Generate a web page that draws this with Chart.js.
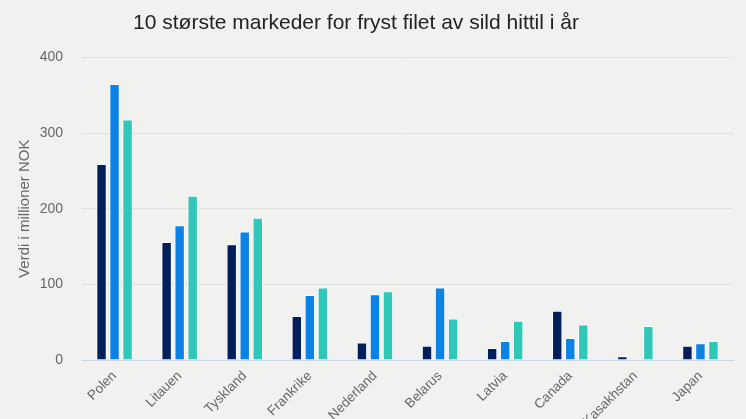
<!DOCTYPE html>
<html lang="no">
<head>
<meta charset="utf-8">
<title>10 største markeder for fryst filet av sild hittil i år</title>
<script src="https://cdn.jsdelivr.net/npm/chart.js@4/dist/chart.umd.min.js"></script>
<style>
    html, body { margin: 0; padding: 0; background: #f1f2ef; }
    #wrap { width: 746px; height: 419px; position: relative; overflow: hidden; }
    #title {
        position: absolute; left: 0; top: 0; width: 712px;
        font-family: "Liberation Sans", Arial, sans-serif;
        font-size: 21px;
        color: #222;
        line-height: 43px;
        padding-right: 34px;
        text-align: center;
        white-space: nowrap;
        z-index: 1;
    }
    canvas { display: block; position: absolute; left: 0; top: 30px; }
</style>
</head>
<body>
<div id="wrap">
    <div id="title">10 største markeder for fryst filet av sild hittil i år</div>
    <canvas id="chart" width="746" height="389"></canvas>
</div>
<script>
(function () {
    'use strict';

    // ── Data ──────────────────────────────────────────────────────────────────
    var markets = ['Polen', 'Litauen', 'Tyskland', 'Frankrike', 'Nederland',
                   'Belarus', 'Latvia', 'Canada', 'Kasakhstan', 'Japan'];
    var periodA = [259, 156, 153, 58, 23, 19, 16, 65, 5, 19];
    var periodB = [365, 178, 170, 86, 87, 96, 25, 29, null, 22];
    var periodC = [318, 217, 188, 96, 91, 55, 52, 47, 45, 25];
    var yTicks  = [0, 100, 200, 300, 400];

    var font = '"Liberation Sans", Arial, sans-serif';

    function series(label, data, color) {
        return {
            label: label,
            data: data,
            backgroundColor: color,
            borderColor: '#ffffff',
            borderWidth: 1,
            categoryPercentage: 0.6,
            barPercentage: 0.8,
        };
    }

    new Chart(document.getElementById('chart').getContext('2d'), {
        type: 'bar',
        data: {
            labels: markets,
            datasets: [
                series('Periode 1', periodA, '#011f5b'),
                series('Periode 2', periodB, '#0b83e6'),
                series('Periode 3', periodC, '#2fc7b8'),
            ],
        },
        options: {
            responsive: false,
            devicePixelRatio: 1,
            animation: false,
            layout: { padding: { top: 0, right: 13, left: 0, bottom: 0 } },
            plugins: {
                legend: { display: false },
                tooltip: { enabled: false },
            },
            scales: {
                x: {
                    grid: { display: false, drawTicks: false },
                    border: { color: '#ccd6eb', width: 1 },
                    ticks: {
                        color: '#666666',
                        font: { family: font, size: 13.5 },
                        minRotation: 45,
                        maxRotation: 45,
                        autoSkip: false,
                        padding: 8,
                    },
                    afterFit: function (scale) { scale.height = 59; },
                },
                y: {
                    min: yTicks[0],
                    max: yTicks[yTicks.length - 1],
                    afterBuildTicks: function (scale) {
                        scale.ticks = yTicks.map(function (v) { return { value: v }; });
                    },
                    grid: { color: '#e0e1de', drawTicks: false },
                    border: { display: false },
                    ticks: {
                        color: '#666666',
                        font: { family: font, size: 14 },
                        padding: 19,
                    },
                    title: {
                        display: true,
                        text: 'Verdi i millioner NOK',
                        color: '#666666',
                        font: { family: font, size: 15 },
                        padding: { top: 16, bottom: 0 },
                    },
                    afterFit: function (scale) { scale.width = 82; },
                },
            },
        },
    });
})();
</script>
</body>
</html>
